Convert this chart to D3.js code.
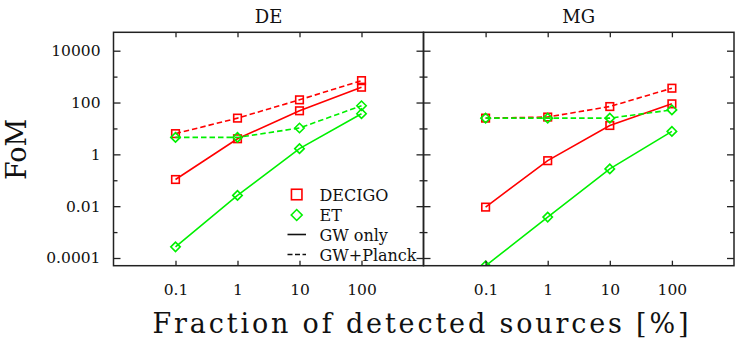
<!DOCTYPE html>
<html>
<head>
<meta charset="utf-8">
<script src="https://cdn.jsdelivr.net/npm/d3@7"></script>
<style>
  html, body { margin: 0; padding: 0; background: #fff; }
  svg { display: block; }
  text { font-family: "DejaVu Serif", serif; fill: #111; }
</style>
</head>
<body>
<svg id="chart" width="755" height="348"></svg>
<script>
// ---- data ----
const fractions = [0.1, 1, 10, 100];
const xTickLabels = ["0.1", "1", "10", "100"];
const yTickValues = [1e-4, 1e-2, 1, 1e2, 1e4];
const yTickLabels = ["0.0001", "0.01", "1", "100", "10000"];
const yMinorValues = [1e-3, 1e-1, 1e1, 1e3];
const panelTitles = ["DE", "MG"];

const deDecigoGW     = [0.107, 4.0, 48, 390];
const deDecigoPlanck = [6.3, 25, 127, 700];
const deEtGW         = [2.7e-4, 0.026, 1.66, 37];
const deEtPlanck     = [4.5, 4.5, 10.4, 75];

const mgDecigoGW     = [0.0092, 0.57, 13, 89];
const mgDecigoPlanck = [25, 27.5, 70, 357];
const mgEtGW         = [5e-5, 0.0038, 0.275, 7.7];
const mgEtPlanck     = [25, 25, 25, 52];

const legendLabels = ["DECIGO", "ET", "GW only", "GW+Planck"];

// ---- layout ----
const svg = d3.select("#chart");
const plotTop = 32.3, plotBottom = 265.7;
const panels = [
  { x0: 113.5, x1: 423.5, title: panelTitles[0],
    series: [
      { v: deDecigoGW, det: "DECIGO", dash: false },
      { v: deDecigoPlanck, det: "DECIGO", dash: true },
      { v: deEtGW, det: "ET", dash: false },
      { v: deEtPlanck, det: "ET", dash: true } ] },
  { x0: 423.5, x1: 734, title: panelTitles[1],
    series: [
      { v: mgDecigoGW, det: "DECIGO", dash: false },
      { v: mgDecigoPlanck, det: "DECIGO", dash: true },
      { v: mgEtGW, det: "ET", dash: false },
      { v: mgEtPlanck, det: "ET", dash: true } ] }
];
const colors = { DECIGO: "#ff0000", ET: "#00f000" };
const axisColor = "#222";

const y = d3.scaleLog().domain([Math.pow(10, 4.71), Math.pow(10, -4.297)]).range([plotTop, plotBottom]);

function drawMarker(g, det, cx, cy, s) {
  if (det === "DECIGO") {
    g.append("rect").attr("x", cx - s/2).attr("y", cy - s/2).attr("width", s).attr("height", s)
      .attr("fill", "none").attr("stroke", colors[det]).attr("stroke-width", 1.6);
  } else {
    const h = s * 0.62;
    g.append("path").attr("d", `M${cx-h},${cy} L${cx},${cy-h} L${cx+h},${cy} L${cx},${cy+h} Z`)
      .attr("fill", "none").attr("stroke", colors[det]).attr("stroke-width", 1.6);
  }
}

panels.forEach((p, i) => {
  const x = d3.scaleLog().domain([0.01, 1000]).range([p.x0, p.x1]);
  const g = svg.append("g");
  const clipId = "clip" + i;
  svg.append("clipPath").attr("id", clipId).append("rect")
    .attr("x", p.x0).attr("y", plotTop).attr("width", p.x1 - p.x0).attr("height", plotBottom - plotTop);

  const data = g.append("g").attr("clip-path", `url(#${clipId})`);
  const line = d3.line().x((d, j) => x(fractions[j])).y(d => y(d));
  p.series.forEach(s => {
    data.append("path").attr("d", line(s.v)).attr("fill", "none")
      .attr("stroke", colors[s.det]).attr("stroke-width", 1.6)
      .attr("stroke-dasharray", s.dash ? "5.5,3" : null);
    s.v.forEach((v, j) => drawMarker(data, s.det, x(fractions[j]), y(v), 7.6));
  });

  // frame
  g.append("rect").attr("x", p.x0).attr("y", plotTop).attr("width", p.x1 - p.x0).attr("height", plotBottom - plotTop)
    .attr("fill", "none").attr("stroke", axisColor).attr("stroke-width", 1.5);

  // axes via d3 axis generators (ticks inward)
  const xb = d3.axisBottom(x).tickValues(fractions).tickFormat((d, j) => xTickLabels[j]).tickSize(-5).tickPadding(18);
  const gxb = g.append("g").attr("transform", `translate(0,${plotBottom})`).call(xb);
  const xt = d3.axisTop(x).tickValues(fractions).tickFormat("").tickSize(-5);
  const gxt = g.append("g").attr("transform", `translate(0,${plotTop})`).call(xt);

  const yl = d3.axisLeft(y).tickValues(yTickValues).tickFormat((d, j) => i === 0 ? yTickLabels[j] : "").tickSize(-7).tickPadding(13);
  const gyl = g.append("g").attr("transform", `translate(${p.x0},0)`).call(yl);
  const yr = d3.axisRight(y).tickValues(yTickValues).tickFormat("").tickSize(-7);
  const gyr = g.append("g").attr("transform", `translate(${p.x1},0)`).call(yr);
  const ylm = d3.axisLeft(y).tickValues(yMinorValues).tickFormat("").tickSize(-4);
  const gylm = g.append("g").attr("transform", `translate(${p.x0},0)`).call(ylm);
  const yrm = d3.axisRight(y).tickValues(yMinorValues).tickFormat("").tickSize(-4);
  const gyrm = g.append("g").attr("transform", `translate(${p.x1},0)`).call(yrm);

  [gxb, gxt, gyl, gyr, gylm, gyrm].forEach(a => {
    a.select(".domain").remove();
    a.selectAll("line").attr("stroke", axisColor).attr("stroke-width", 1.3);
    a.selectAll("text").style("font-family", "DejaVu Serif").style("font-size", "15.5px").attr("fill", "#111");
  });

  g.append("text").attr("x", (p.x0 + p.x1) / 2).attr("y", 23).attr("text-anchor", "middle")
    .style("font-size", "18px").text(p.title);
});

// legend
const lg = svg.append("g");
const lx = 296.7, ltx = 319.5;
const rows = [194.5, 215, 234.5, 254.5];
drawMarker(lg, "DECIGO", lx, rows[0], 10.5);
drawMarker(lg, "ET", lx, rows[1], 8.8);
lg.append("line").attr("x1", 287.5).attr("x2", 306).attr("y1", rows[2]).attr("y2", rows[2])
  .attr("stroke", "#111").attr("stroke-width", 1.6);
lg.append("line").attr("x1", 287.5).attr("x2", 306).attr("y1", rows[3]).attr("y2", rows[3])
  .attr("stroke", "#111").attr("stroke-width", 1.6).attr("stroke-dasharray", "5,2.5");
legendLabels.forEach((t, j) => {
  lg.append("text").attr("x", ltx).attr("y", rows[j] + 6).style("font-size", "16px").text(t);
});

// axis titles
svg.append("text").attr("x", 420.5).attr("y", 333).attr("text-anchor", "middle")
  .attr("textLength", 536).attr("lengthAdjust", "spacing")
  .style("font-size", "27px").text("Fraction of detected sources [%]");
svg.append("text").attr("transform", "translate(26,149.5) rotate(-90)").attr("text-anchor", "middle")
  .style("font-size", "27px").text("FoM");
</script>
</body>
</html>
